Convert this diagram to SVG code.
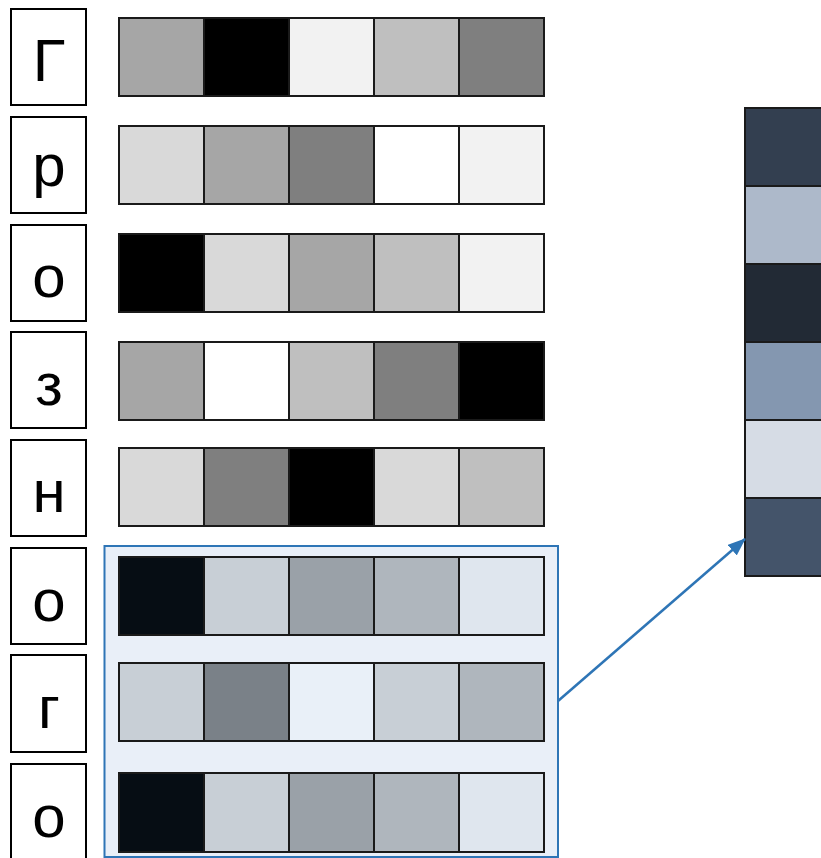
<svg xmlns="http://www.w3.org/2000/svg" width="821" height="858" viewBox="0 0 821 858">
<defs>
<style>
.lb{fill:#fff;stroke:#000;stroke-width:2}
.lt{font-family:"Liberation Sans",Arial,sans-serif;font-size:60px;fill:#000;text-anchor:middle}
.c{stroke:#1a1a1a;stroke-width:2}
.conn{fill:none;stroke:#2e75b6;stroke-width:2.5}
</style>
<marker id="ah" markerWidth="18" markerHeight="14" refX="17" refY="7" orient="auto" markerUnits="userSpaceOnUse">
<path d="M0,0 L18,7 L0,14 Z" fill="#2e75b6"/>
</marker>
</defs>
<rect width="821" height="858" fill="#fff"/>
<g id="highlight">
<rect x="104.5" y="546" width="453.5" height="311" fill="#e9eff8" stroke="#2e75b6" stroke-width="2"/>
</g>
<g id="row1">
<rect class="lb" x="11" y="9" width="75" height="96"/>
<text class="lt" x="49" y="81">Г</text>
<rect class="c" x="119" y="18" width="85" height="78" fill="#a6a6a6"/>
<rect class="c" x="204" y="18" width="85" height="78" fill="#000"/>
<rect class="c" x="289" y="18" width="85" height="78" fill="#f2f2f2"/>
<rect class="c" x="374" y="18" width="85" height="78" fill="#bfbfbf"/>
<rect class="c" x="459" y="18" width="85" height="78" fill="#7f7f7f"/>
</g>
<g id="row2">
<rect class="lb" x="11" y="117" width="75" height="96"/>
<text class="lt" x="49" y="186">р</text>
<rect class="c" x="119" y="126" width="85" height="78" fill="#d9d9d9"/>
<rect class="c" x="204" y="126" width="85" height="78" fill="#a6a6a6"/>
<rect class="c" x="289" y="126" width="85" height="78" fill="#7f7f7f"/>
<rect class="c" x="374" y="126" width="85" height="78" fill="#fff"/>
<rect class="c" x="459" y="126" width="85" height="78" fill="#f2f2f2"/>
</g>
<g id="row3">
<rect class="lb" x="11" y="225" width="75" height="96"/>
<text class="lt" x="49" y="297">о</text>
<rect class="c" x="119" y="234" width="85" height="78" fill="#000"/>
<rect class="c" x="204" y="234" width="85" height="78" fill="#d9d9d9"/>
<rect class="c" x="289" y="234" width="85" height="78" fill="#a6a6a6"/>
<rect class="c" x="374" y="234" width="85" height="78" fill="#bfbfbf"/>
<rect class="c" x="459" y="234" width="85" height="78" fill="#f2f2f2"/>
</g>
<g id="row4">
<rect class="lb" x="11" y="332" width="75" height="96"/>
<text class="lt" x="49" y="405">з</text>
<rect class="c" x="119" y="342" width="85" height="78" fill="#a6a6a6"/>
<rect class="c" x="204" y="342" width="85" height="78" fill="#fff"/>
<rect class="c" x="289" y="342" width="85" height="78" fill="#bfbfbf"/>
<rect class="c" x="374" y="342" width="85" height="78" fill="#7f7f7f"/>
<rect class="c" x="459" y="342" width="85" height="78" fill="#000"/>
</g>
<g id="row5">
<rect class="lb" x="11" y="440" width="75" height="96"/>
<text class="lt" x="49" y="512">н</text>
<rect class="c" x="119" y="448" width="85" height="78" fill="#d9d9d9"/>
<rect class="c" x="204" y="448" width="85" height="78" fill="#7f7f7f"/>
<rect class="c" x="289" y="448" width="85" height="78" fill="#000"/>
<rect class="c" x="374" y="448" width="85" height="78" fill="#d9d9d9"/>
<rect class="c" x="459" y="448" width="85" height="78" fill="#bfbfbf"/>
</g>
<g id="row6">
<rect class="lb" x="11" y="548" width="75" height="96"/>
<text class="lt" x="49" y="621">о</text>
<rect class="c" x="119" y="557" width="85" height="78" fill="#060d14"/>
<rect class="c" x="204" y="557" width="85" height="78" fill="#c8cfd6"/>
<rect class="c" x="289" y="557" width="85" height="78" fill="#9aa1a8"/>
<rect class="c" x="374" y="557" width="85" height="78" fill="#afb6bd"/>
<rect class="c" x="459" y="557" width="85" height="78" fill="#dfe6ee"/>
</g>
<g id="row7">
<rect class="lb" x="11" y="655" width="75" height="97"/>
<text class="lt" x="49" y="728">г</text>
<rect class="c" x="119" y="663" width="85" height="78" fill="#c8cfd6"/>
<rect class="c" x="204" y="663" width="85" height="78" fill="#7a8188"/>
<rect class="c" x="289" y="663" width="85" height="78" fill="#e9f0f8"/>
<rect class="c" x="374" y="663" width="85" height="78" fill="#c8cfd6"/>
<rect class="c" x="459" y="663" width="85" height="78" fill="#afb6bd"/>
</g>
<g id="row8">
<rect class="lb" x="11" y="764" width="75" height="100"/>
<text class="lt" x="49" y="837">о</text>
<rect class="c" x="119" y="773" width="85" height="79" fill="#060d14"/>
<rect class="c" x="204" y="773" width="85" height="79" fill="#c8cfd6"/>
<rect class="c" x="289" y="773" width="85" height="79" fill="#9aa1a8"/>
<rect class="c" x="374" y="773" width="85" height="79" fill="#afb6bd"/>
<rect class="c" x="459" y="773" width="85" height="79" fill="#dfe6ee"/>
</g>
<g id="output">
<rect class="c" x="745" y="108" width="85" height="78" fill="#333f50"/>
<rect class="c" x="745" y="186" width="85" height="78" fill="#adb9ca"/>
<rect class="c" x="745" y="264" width="85" height="78" fill="#222a35"/>
<rect class="c" x="745" y="342" width="85" height="78" fill="#8497b0"/>
<rect class="c" x="745" y="420" width="85" height="78" fill="#d6dce5"/>
<rect class="c" x="745" y="498" width="85" height="78" fill="#44546a"/>
</g>
<g id="connectors">
<line class="conn" x1="558" y1="701" x2="745" y2="539" marker-end="url(#ah)"/>
</g>
</svg>
